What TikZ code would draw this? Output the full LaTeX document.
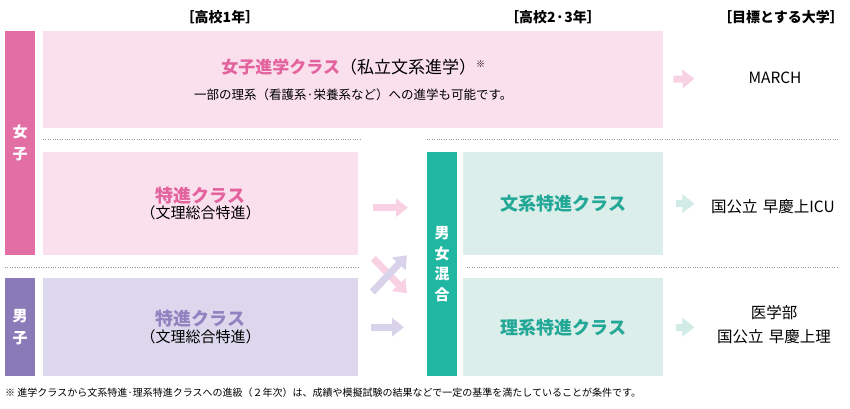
\documentclass[tikz,border=0pt]{standalone}
\usepackage{fontspec}
\setmainfont{Noto Sans CJK JP}
\usetikzlibrary{positioning,arrows.meta}

\definecolor{girlbar}{HTML}{E26EA4}
\definecolor{girlfill}{HTML}{FADFEC}
\definecolor{girltext}{HTML}{E2639E}
\definecolor{girlarr}{HTML}{F8D2E3}
\definecolor{boybar}{HTML}{8B7AB8}
\definecolor{boyfill}{HTML}{DCD7EC}
\definecolor{boytext}{HTML}{9282C0}
\definecolor{boyarr}{HTML}{D8D2EA}
\definecolor{mixbar}{HTML}{1FB6A2}
\definecolor{mixfill}{HTML}{DBEEEA}
\definecolor{mixtext}{HTML}{23A898}
\definecolor{mixarr}{HTML}{D3EBE6}

\tikzset{
  box/.style={rectangle,inner sep=0pt,anchor=north west,align=center},
  bar/.style={box,text=white,font=\fontsize{15}{22}\selectfont\bfseries},
  ttl/.style={font=\fontsize{18}{20}\selectfont\bfseries},
  head/.style={font=\fontsize{14}{16}\selectfont\bfseries},
  goal/.style={text width=130pt,align=center,font=\fontsize{15.5}{24}\selectfont},
  flow/.style={line width=7pt,-{Triangle[length=12pt,width=18pt]}},
  dotline/.style={gray!80,line width=0.8pt,dash pattern=on 1pt off 1.4pt}
}

\begin{document}
\begin{tikzpicture}[x=1pt,y=-1pt]
\useasboundingbox (0,0) rectangle (850,408);

% headers
\node[head] (h1) at (220,17) {［高校1年］};
\node[head] (h2) at (553,17) {［高校2·3年］};
\node[head] (h3) at (781,17) {［目標とする大学］};

% side bars
\node[bar,fill=girlbar,minimum width=30pt,minimum height=224pt] (girl) at (5,31) {女\\子};
\node[bar,fill=boybar,minimum width=30pt,minimum height=98pt] (boy) at (5,278) {男\\子};
\node[bar,fill=mixbar,minimum width=30pt,minimum height=224pt,font=\fontsize{15}{20.5}\selectfont\bfseries] (mix) at (427,152) {男\\女\\混\\合};

% classes
\node[box,fill=girlfill,minimum width=620pt,minimum height=97pt] (jshin) at (43,31)
  {{\fontsize{17}{19}\selectfont\textbf{\textcolor{girltext}{女子進学クラス}}（私立文系進学）\raisebox{6pt}{\fontsize{9}{9}\selectfont ※}}\\[13pt]
   {\fontsize{12.5}{14}\selectfont 一部の理系（看護系·栄養系など）への進学も可能です。}};
\node[box,fill=girlfill,minimum width=315pt,minimum height=103pt] (tokg) at (43,152)
  {\textcolor{girltext}{\fontsize{18}{20}\selectfont\bfseries 特進クラス}\\[1pt]
   {\fontsize{15}{17}\selectfont（文理総合特進）}};
\node[box,fill=boyfill,minimum width=315pt,minimum height=98pt] (tokb) at (43,278)
  {\textcolor{boytext}{\fontsize{18}{20}\selectfont\bfseries 特進クラス}\\[1pt]
   {\fontsize{15}{17}\selectfont（文理総合特進）}};
\node[box,fill=mixfill,minimum width=200pt,minimum height=103pt,text=mixtext,ttl] (bun) at (463,152) {文系特進クラス};
\node[box,fill=mixfill,minimum width=200pt,minimum height=98pt,text=mixtext,ttl] (ri) at (463,278) {理系特進クラス};

% goals
\node[goal] (march) at (775,78) {MARCH};
\node[goal] (icu) at (773,207) {国公立 早慶上ICU};
\node[goal] (med) at (774,325) {医学部\\国公立 早慶上理};

% dotted separators
\draw[dotline] (43,139) -- (360,139);
\draw[dotline] (427,139) -- (838,139);
\draw[dotline] (5,267) -- (360,267);
\draw[dotline] (467,267) -- (838,267);

% arrows
\draw[flow,girlarr,shorten <=10pt,shorten >=12pt] (jshin.east) -- (march.west);
\draw[flow,mixarr,shorten <=13pt,shorten >=10pt] (bun.east) -- (icu.west |- bun.east);
\draw[flow,mixarr,shorten <=13pt,shorten >=11pt] (ri.east) -- (med.west |- ri.east);
\draw[flow,girlarr,shorten <=15pt,shorten >=19pt] ([yshift=-4pt]tokg.east) -- ([yshift=-4pt]tokg.east -| mix.west);
\draw[flow,boyarr,shorten <=13pt,shorten >=23pt] (tokb.east) -- (tokb.east -| mix.west);
\draw[flow,girlarr] ([shift={(15,3)}]tokg.south east) -- ([shift={(-20,29)}]mix.west);
\draw[flow,boyarr] ([shift={(14,14)}]tokb.north east) -- ([shift={(-20,-9)}]mix.west);

% footnote
\node[anchor=west,inner sep=0pt,font=\fontsize{10}{12}\selectfont] (note) at (5,393)
  {※ 進学クラスから文系特進·理系特進クラスへの進級（２年次）は、成績や模擬試験の結果などで一定の基準を満たしていることが条件です。};
\end{tikzpicture}
\end{document}
